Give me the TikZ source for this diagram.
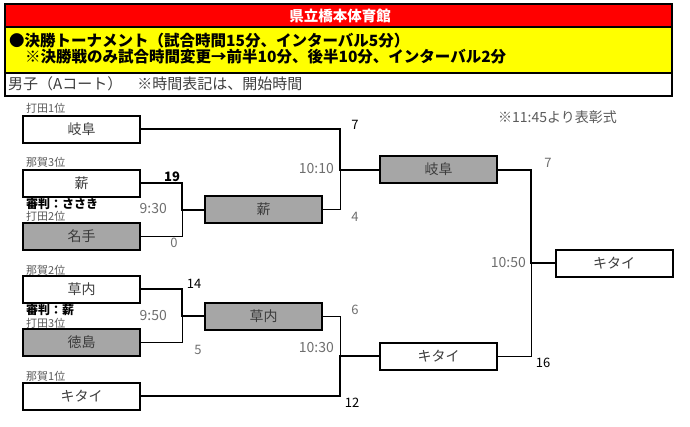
\documentclass[tikz,border=0pt]{standalone}
\usepackage{fontspec}
\setmainfont{Noto Sans CJK JP}
\newcommand\myfs[1]{\fontsize{#1}{#1}\selectfont}
\definecolor{boxgray}{HTML}{A6A6A6}
\definecolor{txtgray}{HTML}{3C3C3C}
\definecolor{lblgray}{HTML}{5A5A5A}
\definecolor{timgray}{HTML}{6E6E6E}
\definecolor{hdrred}{HTML}{FF0000}
\definecolor{hdryel}{HTML}{FFFF00}
\tikzset{
  team/.style={draw=black, line width=2pt, minimum width=117pt, minimum height=27pt, inner sep=0pt, font=\myfs{14}, text=txtgray},
  win/.style={fill=boxgray},
  thk/.style={line width=2pt},
  thn/.style={line width=1pt},
  lbl/.style={anchor=west, font=\myfs{11}, text=lblgray, inner sep=0pt},
  ref/.style={anchor=west, font=\bfseries\myfs{12}, text=black, inner sep=0pt},
  tim/.style={anchor=east, font=\myfs{14}, text=timgray, inner sep=0pt},
  scw/.style={font=\myfs{13}, text=black, inner sep=0pt},
  scl/.style={font=\myfs{13}, text=timgray, inner sep=0pt}
}
\begin{document}
\begin{tikzpicture}[x=1pt,y=-1pt]
\useasboundingbox (0,0) rectangle (690,426);
% header
\fill[hdrred] (5,4) rectangle (672,27);
\fill[hdryel] (5,27) rectangle (672,73);
\draw[line width=2pt] (5,4) rectangle (672,96);
\draw[line width=2pt] (5,27) -- (672,27);
\draw[line width=2pt] (5,73) -- (672,73);
\node[font=\bfseries\myfs{14.5}, text=white, inner sep=0pt] (title) at (340,15.5) {県立橋本体育館};
\node[anchor=west, font=\bfseries\myfs{15.5}, inner sep=0pt] (line1) at (9,41) {●決勝トーナメント（試合時間15分、インターバル5分）};
\node[anchor=west, font=\bfseries\myfs{15.5}, inner sep=0pt] (line2) at (25,57) {※決勝戦のみ試合時間変更→前半10分、後半10分、インターバル2分};
\node[anchor=west, font=\myfs{15}, text=txtgray, inner sep=0pt] (line3) at (8,84) {男子（Aコート）　※時間表記は、開始時間};
\node[anchor=west, font=\myfs{14}, text=lblgray, inner sep=0pt] (award) at (498,117) {※11:45より表彰式};
% first round teams
\node[team] (A) at (81.5,129) {岐阜};
\node[team] (B) at (81.5,183) {薪};
\node[team,win] (C) at (81.5,236) {名手};
\node[team] (D) at (81.5,289) {草内};
\node[team,win] (E) at (81.5,342) {徳島};
\node[team] (F) at (81.5,396) {キタイ};
% second round / semis / final
\node[team,win] (G) at (263.5,209.5) {薪};
\node[team,win] (H) at (263.5,316) {草内};
\node[team,win] (I) at (438.5,169.5) {岐阜};
\node[team] (J) at (438.5,356) {キタイ};
\node[team] (K) at (614,263) {キタイ};
% seeding labels
\node[lbl] (sA) at (26,108) {打田1位};
\node[lbl] (sB) at (26,162) {那賀3位};
\node[ref] (rB) at (26,204) {審判：ささき};
\node[lbl] (sC) at (26,216) {打田2位};
\node[lbl] (sD) at (26,270) {那賀2位};
\node[ref] (rD) at (26,310) {審判：薪};
\node[lbl] (sE) at (26,323) {打田3位};
\node[lbl] (sF) at (26,376) {那賀1位};
% junctions
\coordinate (m1) at (182,209.5);
\coordinate (m2) at (182,316);
\coordinate (m3) at (340,169.5);
\coordinate (m4) at (340,356);
\coordinate (m5) at (531,263);
% connectors
\draw[thk] (B.east) -| (m1) -- (G.west);
\draw[thn] (C.east) -| (m1);
\draw[thk] (D.east) -| (m2) -- (H.west);
\draw[thn] (E.east) -| (m2);
\draw[thk] (A.east) -| (m3) -- (I.west);
\draw[thn] (G.east) -| (m3);
\draw[thn] (H.east) -| (m4);
\draw[thk] (F.east) -| (m4) -- (J.west);
\draw[thk] (I.east) -| (m5) -- (K.west);
\draw[thn] (J.east) -| (m5);
% times
\node[tim] (t1) at (167,209) {9:30};
\node[tim] (t2) at (167,316) {9:50};
\node[tim] (t3) at (334,169) {10:10};
\node[tim] (t4) at (334,348) {10:30};
\node[tim] (t5) at (526,263) {10:50};
% scores
\node[scw, font=\bfseries\myfs{13}] (s1) at (172,177) {19};
\node[scl] (s2) at (174,243) {0};
\node[scw] (s3) at (194,284) {14};
\node[scl] (s4) at (198,350) {5};
\node[scw] (s5) at (355,125) {7};
\node[scl] (s6) at (355,217) {4};
\node[scl] (s7) at (355,310) {6};
\node[scw] (s8) at (352,403) {12};
\node[scl] (s9) at (548,163) {7};
\node[scw] (s10) at (543,363) {16};
\end{tikzpicture}
\end{document}
